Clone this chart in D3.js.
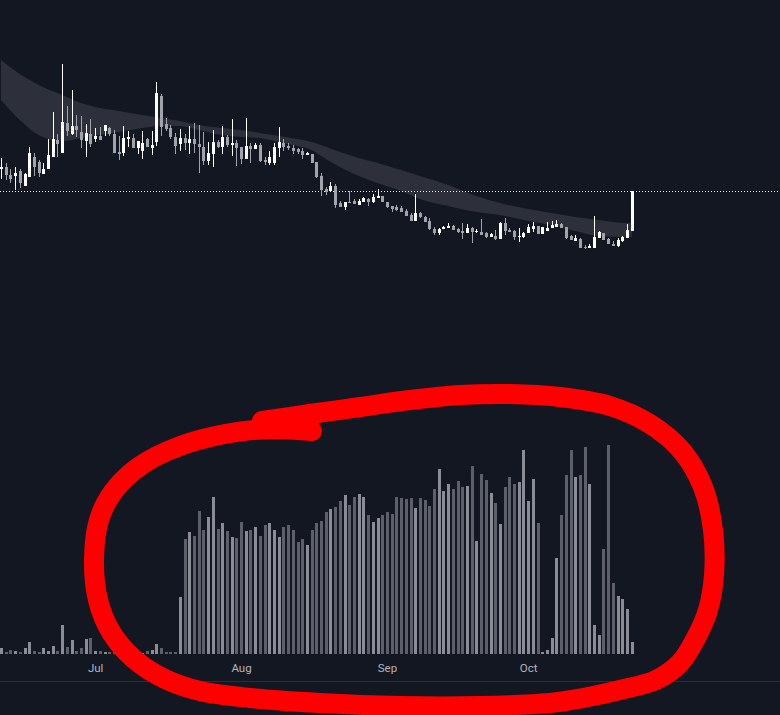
<!DOCTYPE html>
<html><head><meta charset="utf-8">
<script src="https://cdn.jsdelivr.net/npm/d3@7"></script>
<style>html,body{margin:0;padding:0;background:#131722;overflow:hidden}</style>
</head><body><svg id="c" width="780" height="715"></svg>
<script>
// ---- data ----
const startDay = "2023-06-11";
const openP = [1.31,1.33,1.25,1.24,1.29,1.14,1.23,1.43,1.38,1.26,
1.31,1.43,1.60,1.47,1.77,1.66,1.74,1.68,1.59,1.66,
1.61,1.64,1.69,1.72,1.66,1.48,1.47,1.61,1.62,1.52,
1.49,1.61,1.52,1.58,2.04,1.76,1.72,1.63,1.56,1.62,
1.57,1.61,1.56,1.53,1.39,1.46,1.58,1.53,1.63,1.55,
1.57,1.53,1.41,1.54,1.51,1.55,1.40,1.37,1.37,1.52,
1.57,1.54,1.52,1.51,1.49,1.45,1.46,1.38,1.24,1.11,
1.09,1.14,0.97,0.93,0.98,0.99,0.95,0.98,1.01,0.98,
1.02,1.04,0.98,0.94,0.93,0.92,0.89,0.85,0.79,0.87,
0.83,0.79,0.71,0.67,0.71,0.72,0.74,0.71,0.69,0.67,
0.72,0.68,0.68,0.67,0.63,0.64,0.61,0.77,0.70,0.69,
0.63,0.63,0.67,0.71,0.74,0.66,0.69,0.72,0.73,0.76,
0.73,0.64,0.59,0.61,0.53,0.52,0.52,0.62,0.67,0.61,
0.56,0.54,0.59,0.62,0.69];
const highP = [1.42,1.37,1.31,1.33,1.31,1.27,1.53,1.47,1.40,1.37,
1.61,1.88,1.66,2.36,1.94,2.10,1.85,1.84,1.76,1.81,
1.72,1.73,1.75,1.73,1.70,1.64,1.74,1.69,1.66,1.59,
1.69,1.62,1.69,2.18,2.06,1.82,1.75,1.67,1.71,1.66,
1.74,1.77,1.75,1.68,1.58,1.70,1.60,1.74,1.65,1.81,
1.60,1.53,1.82,1.57,1.57,1.57,1.43,1.49,1.57,1.73,
1.61,1.57,1.55,1.52,1.52,1.48,1.46,1.38,1.27,1.13,
1.18,1.16,0.99,0.98,1.09,1.01,1.01,1.03,1.02,1.06,
1.11,1.04,0.98,0.94,0.95,0.94,0.91,0.87,1.06,0.88,
0.84,0.82,0.73,0.72,0.74,0.77,0.75,0.72,0.77,0.76,
0.73,0.71,0.81,0.68,0.67,0.70,0.78,0.82,0.72,0.70,
0.72,0.68,0.76,0.78,0.74,0.73,0.78,0.79,0.80,0.77,
0.73,0.65,0.65,0.62,0.55,0.56,0.84,0.69,0.67,0.62,
0.59,0.62,0.64,0.76,1.09];
const lowP = [1.21,1.20,1.17,1.10,1.12,1.14,1.23,1.24,1.23,1.26,
1.31,1.43,1.43,1.47,1.64,1.65,1.63,1.52,1.43,1.53,
1.58,1.60,1.64,1.64,1.47,1.40,1.44,1.53,1.52,1.46,
1.41,1.53,1.45,1.54,1.64,1.69,1.61,1.46,1.49,1.50,
1.46,1.47,1.27,1.35,1.35,1.33,1.52,1.46,1.53,1.44,
1.34,1.36,1.41,1.37,1.51,1.38,1.35,1.35,1.35,1.43,
1.49,1.50,1.46,1.46,1.41,1.45,1.37,1.22,1.04,1.05,
1.09,0.92,0.93,0.90,0.97,0.96,0.95,0.98,0.94,0.97,
1.02,0.98,0.92,0.88,0.89,0.88,0.84,0.79,0.79,0.82,
0.78,0.70,0.65,0.65,0.71,0.72,0.70,0.67,0.61,0.67,
0.57,0.67,0.65,0.62,0.63,0.60,0.61,0.65,0.68,0.60,
0.58,0.62,0.67,0.68,0.66,0.66,0.69,0.72,0.73,0.72,
0.61,0.60,0.59,0.52,0.51,0.52,0.52,0.62,0.60,0.56,
0.54,0.53,0.58,0.62,0.69];
const closeP = [1.33,1.25,1.21,1.27,1.17,1.26,1.47,1.33,1.27,1.31,
1.45,1.61,1.56,1.78,1.69,1.74,1.70,1.60,1.67,1.56,
1.64,1.60,1.75,1.66,1.47,1.46,1.62,1.63,1.52,1.59,
1.57,1.53,1.55,2.07,1.73,1.71,1.63,1.54,1.62,1.57,
1.61,1.56,1.53,1.39,1.47,1.58,1.53,1.63,1.55,1.57,
1.52,1.41,1.54,1.51,1.55,1.39,1.38,1.43,1.53,1.58,
1.53,1.52,1.49,1.48,1.45,1.47,1.37,1.23,1.10,1.08,
1.14,0.95,0.93,0.98,0.97,0.96,0.99,1.02,0.98,1.03,
1.04,0.98,0.93,0.91,0.90,0.88,0.84,0.79,0.87,0.83,
0.78,0.71,0.67,0.71,0.73,0.74,0.70,0.68,0.67,0.72,
0.68,0.69,0.65,0.63,0.66,0.61,0.77,0.69,0.68,0.63,
0.64,0.67,0.73,0.74,0.66,0.73,0.72,0.75,0.76,0.72,
0.62,0.60,0.62,0.52,0.52,0.54,0.63,0.68,0.60,0.56,
0.54,0.60,0.63,0.70,1.09];
const volume = [0.55,0.25,0.45,0.35,0.25,0.55,1.25,0.35,0.25,0.55,
0.35,0.85,0.35,2.95,0.75,1.45,0.35,0.65,1.55,1.65,
0.35,0.30,0.20,0.25,0.30,0.20,0.20,0.15,0.15,0.15,
0.15,0.35,0.45,1.05,0.65,0.25,0.25,0.25,5.75,11.55,
12.25,11.85,14.35,12.45,13.75,15.75,12.55,13.15,12.35,11.75,
11.65,13.25,12.35,12.45,12.75,11.85,12.95,13.15,12.45,11.75,
12.75,12.95,12.45,11.25,11.55,10.95,12.45,13.15,13.35,14.25,
14.55,14.75,15.35,15.95,14.95,15.75,16.05,15.75,13.95,13.25,
13.65,13.95,14.25,14.05,15.75,15.65,15.55,15.65,14.65,15.65,
15.45,14.85,16.55,18.55,16.35,17.05,16.55,17.35,16.75,16.85,
18.85,11.35,18.05,17.45,16.15,15.15,13.05,16.75,17.75,17.05,
17.25,20.35,15.35,17.55,13.15,0.25,0.45,1.65,9.65,13.95,
17.95,20.35,17.75,17.95,20.75,17.05,2.95,1.95,10.55,20.95,
7.15,5.85,5.55,4.55,1.25];
// moving-average ribbon, sampled at day offsets
const bandDays  = [0,4,8,13,17,21,25,30,34,38,42,47,51,55,59,63,66,68,72,76,80,85,89,95,101,106,112,117,122,127,133,134];
const bandUpper = [2.40,2.26,2.15,2.05,1.97,1.92,1.89,1.85,1.82,1.79,1.75,1.72,1.70,1.67,1.64,1.61,1.58,1.55,1.48,1.42,1.37,1.30,1.24,1.15,1.04,0.97,0.91,0.87,0.83,0.80,0.77,0.77];
const bandLower = [2.00,1.80,1.65,1.59,1.62,1.65,1.68,1.72,1.74,1.74,1.70,1.65,1.63,1.62,1.58,1.54,1.50,1.44,1.33,1.24,1.17,1.09,1.01,0.94,0.88,0.85,0.79,0.75,0.69,0.64,0.63,0.63];
const tickDates  = ["2023-07-01","2023-08-01","2023-09-01","2023-10-01","2023-11-01"];
const tickLabels = ["Jul","Aug","Sep","Oct","Nov"];

// ---- drawing ----
const svg = d3.select("#c");
const parse = d3.utcParse("%Y-%m-%d");
const t0 = parse(startDay);
const candles = openP.map((o,i)=>({date:d3.utcDay.offset(t0,i),o,h:highP[i],l:lowP[i],c:closeP[i],v:volume[i]}));
const x = d3.scaleUtc().domain([t0, d3.utcDay.offset(t0,147)]).range([1, 1+147*4.707]);
const yP = d3.scaleLinear().domain([0,3]).range([300,0]);
const yV = d3.scaleLinear().domain([0,24]).range([654,414]);

svg.append("rect").attr("width",780).attr("height",715).attr("fill","#131722");

// ribbon
const band = bandDays.map((d,i)=>({date:d3.utcDay.offset(t0,d),hi:bandUpper[i],lo:bandLower[i]}));
svg.append("path").datum(band)
  .attr("fill","#2d303b")
  .attr("d", d3.area().x(d=>x(d.date)).y0(d=>yP(d.lo)).y1(d=>yP(d.hi)).curve(d3.curveMonotoneX));

// last price dotted line
const lastY = Math.round(yP(closeP[closeP.length-1]))+0.5;
svg.append("line").attr("x1",0).attr("x2",780).attr("y1",lastY).attr("y2",lastY)
  .attr("stroke","#ffffff").attr("stroke-width",1).attr("stroke-dasharray","1,2");

const up = d=>d.c>=d.o;
const gC = svg.append("g");
candles.forEach(d=>{
  const cx = Math.round(x(d.date));
  const col = up(d)?"#ffffff":"#a0a3ac";
  const yh = Math.round(yP(d.h)), yl = Math.round(yP(d.l));
  gC.append("rect").attr("x",cx).attr("width",1).attr("y",yh).attr("height",Math.max(1,yl-yh)).attr("fill",col);
  const yt = Math.round(yP(Math.max(d.o,d.c))), yb = Math.round(yP(Math.min(d.o,d.c)));
  gC.append("rect").attr("x",cx-1).attr("width",3).attr("y",yt).attr("height",Math.max(1,yb-yt)).attr("fill",col);
});

// volume
svg.append("g").selectAll("rect").data(candles).join("rect")
  .attr("x",d=>Math.round(x(d.date))-1).attr("width",3)
  .attr("y",d=>Math.round(yV(d.v))).attr("height",d=>yV(0)-Math.round(yV(d.v)))
  .attr("fill",d=>up(d)?"#8a8d96":"#5d606b");

// time axis
svg.append("line").attr("x1",0).attr("x2",780).attr("y1",681.5).attr("y2",681.5).attr("stroke","#2a2e39");
const axis = d3.axisBottom(x).tickValues(tickDates.map(parse)).tickFormat((d,i)=>tickLabels[i]).tickSize(0);
const ag = svg.append("g").attr("transform","translate(0,661)").call(axis);
ag.select(".domain").remove();
ag.selectAll("text").attr("fill","#b2b5be").attr("font-family","Roboto, sans-serif").attr("font-size","11.5px").attr("dy","0.71em");

// freehand red highlight (annotation overlay, screen coordinates)
const scribble = [[262,421],[310,414],[360,407],[410,400],[460,395],[510,394],[560,397],[610,406],[650,424],[682,451],[703,487],[713,530],[714,575],[708,610],[696,638],[680,663],[656,680],[620,690],[583,698],[550,703],[480,706],[400,706],[320,703],[250,698],[200,691],[165,679],[134,659],[111,632],[98,600],[94,560],[99,520],[113,492],[140,466],[180,446],[225,434],[270,429],[312,431]];
svg.append("path").attr("d", d3.line().curve(d3.curveCatmullRom)(scribble))
  .attr("fill","none").attr("stroke","#ff0000").attr("stroke-width",20).attr("stroke-linecap","round").attr("stroke-linejoin","round");
</script></body></html>
